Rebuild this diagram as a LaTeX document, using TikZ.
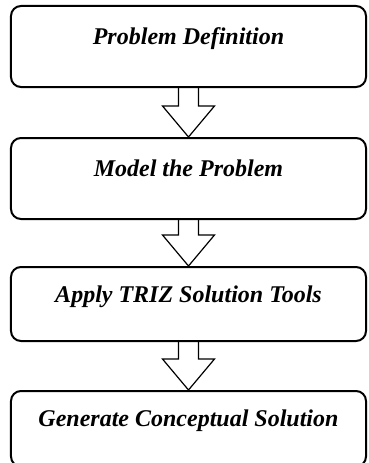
\documentclass[tikz,border=0pt]{standalone}
\usepackage{fontspec}
\setmainfont{Liberation Serif}
\usepackage{tikz}
\usetikzlibrary{positioning,calc}

\begin{document}
\begin{tikzpicture}[
stagebox/.style={draw=black, line width=2pt, rounded corners=10pt, fill=white, minimum width=355pt, align=center, font=\fontsize{24}{28}\selectfont\bfseries\itshape, text height=16pt, text depth=20pt},
blockarrow/.style={draw=black, line width=1.2pt, line join=miter}
]
\useasboundingbox (-188.5pt,46.5pt) rectangle (179.5pt,-416.5pt);

\node[stagebox, minimum height=81pt] (b1) at (0,0) {Problem Definition};
\node[stagebox, minimum height=81pt, below=49pt of b1] (b2) {Model the Problem};
\node[stagebox, minimum height=74pt, below=46pt of b2] (b3) {Apply TRIZ Solution Tools};
\node[stagebox, minimum height=75.5pt, below=48pt of b3] (b4) {Generate Conceptual Solution};

% hollow block arrows between the stages
\foreach \a/\b in {b1/b2, b2/b3, b3/b4}
  \draw[blockarrow] ($(\a.south)+(-10pt,0)$) -- ($(\b.north)+(-10pt,31pt)$)
    -- ($(\b.north)+(-26pt,31pt)$) -- (\b.north)
    -- ($(\b.north)+(26pt,31pt)$) -- ($(\b.north)+(10pt,31pt)$)
    -- ($(\a.south)+(10pt,0)$);
\end{tikzpicture}
\end{document}
